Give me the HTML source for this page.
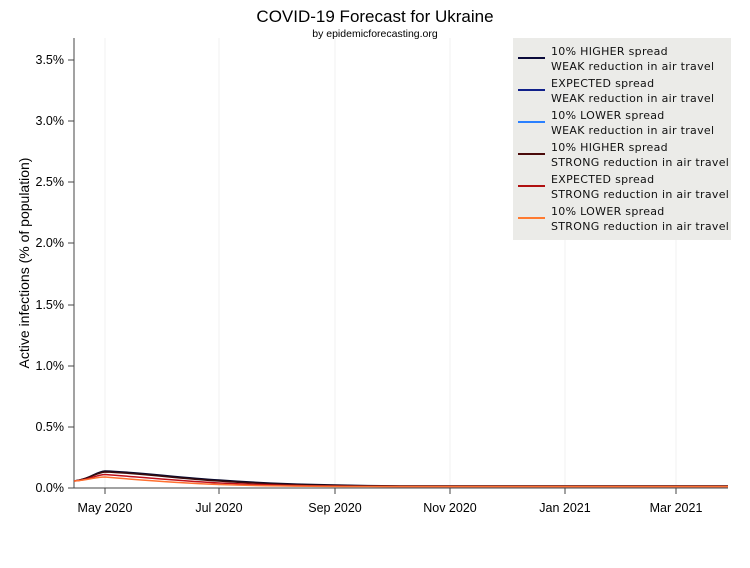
<!DOCTYPE html>
<html><head><style>body{margin:0;background:#fff}svg{font-family:"Liberation Sans",sans-serif}</style></head><body>
<svg width="750" height="563" xmlns="http://www.w3.org/2000/svg">
<text x="375" y="22" text-anchor="middle" font-size="17">COVID-19 Forecast for Ukraine</text>
<text x="375" y="37" text-anchor="middle" font-size="10.5">by epidemicforecasting.org</text>
<g stroke="#f0f0f0" stroke-width="1">
<line x1="105" y1="38" x2="105" y2="488"/><line x1="219" y1="38" x2="219" y2="488"/><line x1="335" y1="38" x2="335" y2="488"/><line x1="450" y1="38" x2="450" y2="488"/><line x1="565" y1="38" x2="565" y2="488"/><line x1="676" y1="38" x2="676" y2="488"/>
</g>
<g stroke="#444" stroke-width="1">
<line x1="74" y1="38" x2="74" y2="488"/><line x1="74" y1="488" x2="728" y2="488"/>
<line x1="68" y1="488" x2="74" y2="488"/><line x1="68" y1="427" x2="74" y2="427"/><line x1="68" y1="366" x2="74" y2="366"/><line x1="68" y1="305" x2="74" y2="305"/><line x1="68" y1="243" x2="74" y2="243"/><line x1="68" y1="182" x2="74" y2="182"/><line x1="68" y1="121" x2="74" y2="121"/><line x1="68" y1="60" x2="74" y2="60"/>
<line x1="105" y1="488" x2="105" y2="494"/><line x1="219" y1="488" x2="219" y2="494"/><line x1="335" y1="488" x2="335" y2="494"/><line x1="450" y1="488" x2="450" y2="494"/><line x1="565" y1="488" x2="565" y2="494"/><line x1="676" y1="488" x2="676" y2="494"/>
</g>
<g font-size="12.5" text-anchor="end">
<text x="64" y="492">0.0%</text><text x="64" y="431">0.5%</text><text x="64" y="370">1.0%</text><text x="64" y="309">1.5%</text><text x="64" y="247">2.0%</text><text x="64" y="186">2.5%</text><text x="64" y="125">3.0%</text><text x="64" y="64">3.5%</text>
</g>
<g font-size="12.5" text-anchor="middle">
<text x="105" y="512">May 2020</text><text x="219" y="512">Jul 2020</text><text x="335" y="512">Sep 2020</text><text x="450" y="512">Nov 2020</text><text x="565" y="512">Jan 2021</text><text x="676" y="512">Mar 2021</text>
</g>
<text transform="translate(29,263) rotate(-90)" text-anchor="middle" font-size="14">Active infections (% of population)</text>
<g fill="none" stroke-width="1.5">
<path d="M74,481 C90,479 95,472 105,471 C140,472 180,478 219,480 C260,483 300,485 400,486 L728,486" stroke="#0a0a2e"/>
<path d="M74,481 C90,479 95,473 105,472 C140,473 180,479 219,481 C260,484 300,485.5 400,486 L728,486" stroke="#3a0a0a"/>
<path d="M74,481 C90,480 95,475 105,474.5 C140,477 180,481 219,483 C260,485 300,486 400,486.5 L728,486.5" stroke="#c0101a"/>
<path d="M74,481 C90,480 95,477 105,477 C140,480 180,483 219,484.5 C260,486 300,486.5 400,486.5 L728,486.5" stroke="#ff7030"/>
</g>
<rect x="513" y="38" width="218" height="202" fill="#ebebe8"/>
<g stroke-width="2">
<line x1="518" y1="58" x2="545" y2="58" stroke="#0a0a3a"/>
<line x1="518" y1="90" x2="545" y2="90" stroke="#10208a"/>
<line x1="518" y1="122" x2="545" y2="122" stroke="#2a80ff"/>
<line x1="518" y1="154" x2="545" y2="154" stroke="#4a0a0a"/>
<line x1="518" y1="186" x2="545" y2="186" stroke="#b01010"/>
<line x1="518" y1="218" x2="545" y2="218" stroke="#ff7a30"/>
</g>
<g font-size="11" font-family="DejaVu Sans" fill="#111" letter-spacing="0.3">
<text x="551" y="55">10% HIGHER spread</text><text x="551" y="70">WEAK reduction in air travel</text>
<text x="551" y="87">EXPECTED spread</text><text x="551" y="102">WEAK reduction in air travel</text>
<text x="551" y="119">10% LOWER spread</text><text x="551" y="134">WEAK reduction in air travel</text>
<text x="551" y="151">10% HIGHER spread</text><text x="551" y="166">STRONG reduction in air travel</text>
<text x="551" y="183">EXPECTED spread</text><text x="551" y="198">STRONG reduction in air travel</text>
<text x="551" y="215">10% LOWER spread</text><text x="551" y="230">STRONG reduction in air travel</text>
</g>
</svg>
</body></html>
